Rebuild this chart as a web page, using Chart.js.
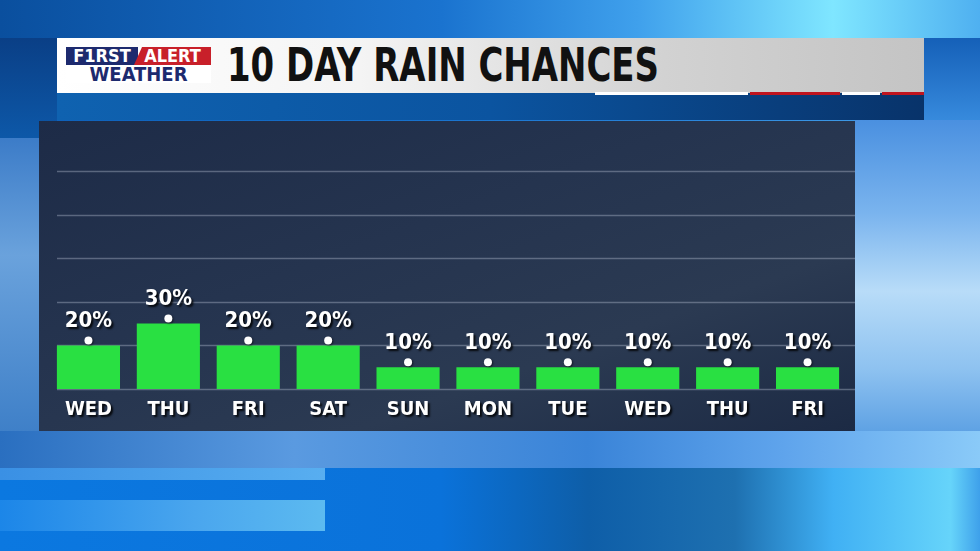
<!DOCTYPE html>
<html>
<head>
<meta charset="utf-8">
<script src="https://cdn.jsdelivr.net/npm/chart.js@4"></script>
<style>
  html,body{margin:0;padding:0;}
  body{width:980px;height:551px;position:relative;overflow:hidden;
    background:linear-gradient(90deg,#0d5fb8 0%,#1670cc 40%,#2a86dc 70%,#4aa6ee 100%);
    font-family:"DejaVu Sans Condensed","DejaVu Sans",sans-serif;}
  .blk{position:absolute;}
  #hdr{position:absolute;left:57px;top:38px;width:867px;height:55px;
    background:linear-gradient(90deg,#ffffff 0%,#f4f4f4 35%,#d2d2d2 70%,#c4c4c4 100%);}
  #band{position:absolute;left:57px;top:93px;width:867px;height:27px;
    background:linear-gradient(90deg,#0f62b0 0%,#0b54a0 50%,#08336a 100%);}
  #title{position:absolute;left:227px;top:38px;font-weight:bold;font-size:46px;line-height:54px;color:#111;
    transform:scaleX(0.82);transform-origin:left center;white-space:nowrap;}
  #logo{position:absolute;left:66px;top:47px;width:145px;height:36px;background:#fff;}
  #logo .r1{position:absolute;left:0;top:0;height:18px;width:145px;font-weight:bold;font-size:18px;line-height:18px;color:#fff;}
  #logo .f{position:absolute;left:0;top:0;width:72px;height:18px;background:#1d2a6e;text-align:center;}
  #logo .a{position:absolute;left:68px;top:0;width:77px;height:18px;background:#c8202a;text-align:center;
    clip-path:polygon(8px 0,100% 0,100% 100%,0 100%);}
  #logo .w{position:absolute;left:0;top:18px;width:145px;text-align:center;font-weight:bold;font-size:20px;line-height:18px;color:#1d2a6e;}
  #panel{position:absolute;left:39px;top:121px;width:816px;height:310px;
    background:linear-gradient(160deg,#1d2b47 0%,#25344f 40%,#2b3a52 70%,#1c2a44 100%);}
  #chartwrap{position:absolute;left:0;top:0;width:816px;height:310px;}
</style>
</head>
<body>
<div class="blk" style="left:0;top:0;width:980px;height:38px;background:linear-gradient(90deg,#0a4f9e 0%,#1a73cf 45%,#3fa0ec 65%,#7fe6ff 85%,#4fb0f0 100%);"></div>
<div class="blk" style="left:924px;top:38px;width:56px;height:90px;background:linear-gradient(180deg,#1560b8,#3a8ee0);"></div>
<div class="blk" style="left:0;top:38px;width:57px;height:100px;background:linear-gradient(180deg,#0a3f86,#0d58a8);"></div>
<div class="blk" style="left:0;top:138px;width:39px;height:293px;background:linear-gradient(180deg,#3c7cc8,#6aa2dc 40%,#3f80c8 100%);"></div>
<div class="blk" style="left:855px;top:120px;width:125px;height:311px;background:linear-gradient(180deg,#4a90e0 0%,#7ab4ee 30%,#b8dcf8 55%,#8ec2f0 80%,#5fa2e4 100%);"></div>
<div class="blk" style="left:0;top:431px;width:980px;height:40px;background:linear-gradient(90deg,#2a6fc0 0%,#5a9ae0 30%,#3a84d8 60%,#5fa4ec 80%,#8acaf8 100%);"></div>
<div class="blk" style="left:0;top:468px;width:980px;height:83px;background:linear-gradient(90deg,#0b78e0 0%,#0a72da 45%,#0e5ea8 60%,#1e70b0 75%,#40b0f4 85%,#66d4fa 97%,#3ea0ea 100%);"></div>
<div class="blk" style="left:0;top:468px;width:325px;height:12px;background:linear-gradient(90deg,#3a90e4,#58aef0);"></div>
<div class="blk" style="left:0;top:500px;width:325px;height:31px;background:linear-gradient(90deg,#1c86e8,#4aa6ee 60%,#5cbaf0);"></div>

<div id="hdr"></div>
<div id="band"></div>
<div class="blk" style="left:595px;top:92px;width:153px;height:3px;background:#fff;"></div>
<div class="blk" style="left:750px;top:92px;width:90px;height:3px;background:#c0141e;"></div>
<div class="blk" style="left:842px;top:92px;width:38px;height:3px;background:#fff;"></div>
<div class="blk" style="left:882px;top:92px;width:42px;height:3px;background:#c0141e;"></div>
<div id="logo">
  <div class="r1"><div class="f">F1RST</div><div class="a">ALERT</div></div>
  <div class="w">WEATHER</div>
</div>
<div id="title">10 DAY RAIN CHANCES</div>

<div id="panel"><div id="chartwrap"><canvas id="c" width="816" height="310"></canvas></div></div>

<script>
const days = ["WED","THU","FRI","SAT","SUN","MON","TUE","WED","THU","FRI"];
const rainChance = [20,30,20,20,10,10,10,10,10,10];
const gridValues = [0,20,40,60,80,100];

const overlay = {
  id:'overlay',
  beforeDatasetsDraw(chart){
    const ctx = chart.ctx, y = chart.scales.y, a = chart.chartArea;
    ctx.save();
    ctx.strokeStyle = 'rgba(200,210,225,0.35)';
    ctx.lineWidth = 1.5;
    gridValues.forEach(v=>{
      const py = Math.round(y.getPixelForValue(v))+0.5;
      ctx.beginPath(); ctx.moveTo(a.left+8.5, py); ctx.lineTo(chart.width, py); ctx.stroke();
    });
    ctx.restore();
  },
  afterDatasetsDraw(chart){
    const ctx = chart.ctx, meta = chart.getDatasetMeta(0), x = chart.scales.x, a = chart.chartArea;
    ctx.save();
    ctx.textAlign = 'center';
    ctx.textBaseline = 'middle';
    meta.data.forEach((bar,i)=>{
      ctx.shadowColor = 'rgba(0,0,0,0.6)'; ctx.shadowBlur = 2; ctx.shadowOffsetX = 1; ctx.shadowOffsetY = 1;
      ctx.fillStyle = '#ffffff';
      ctx.beginPath(); ctx.arc(bar.x, bar.y - 5, 4, 0, Math.PI*2); ctx.fill();
      ctx.font = 'bold 22px "DejaVu Sans Condensed","DejaVu Sans",sans-serif';
      ctx.shadowBlur = 2; ctx.shadowOffsetX = 2; ctx.shadowOffsetY = 2; ctx.shadowColor = 'rgba(0,0,0,0.85)';
      ctx.fillText(rainChance[i] + '%', bar.x, bar.y - 24);
      ctx.font = 'bold 20px "DejaVu Sans Condensed","DejaVu Sans",sans-serif';
      ctx.fillText(days[i], x.getPixelForValue(i), a.bottom + 21);
    });
    ctx.restore();
  }
};

new Chart(document.getElementById('c'), {
  type:'bar',
  data:{labels:days, datasets:[{data:rainChance, backgroundColor:'#29e042', borderWidth:0,
    barPercentage:0.79, categoryPercentage:1.0}]},
  options:{
    responsive:false, animation:false, devicePixelRatio:1,
    layout:{padding:{left:9.5,right:7.5,top:50,bottom:42}},
    plugins:{legend:{display:false}, tooltip:{enabled:false}, title:{display:false}},
    scales:{
      x:{display:false},
      y:{display:false, min:0, max:100}
    }
  },
  plugins:[overlay]
});
</script>
</body>
</html>
